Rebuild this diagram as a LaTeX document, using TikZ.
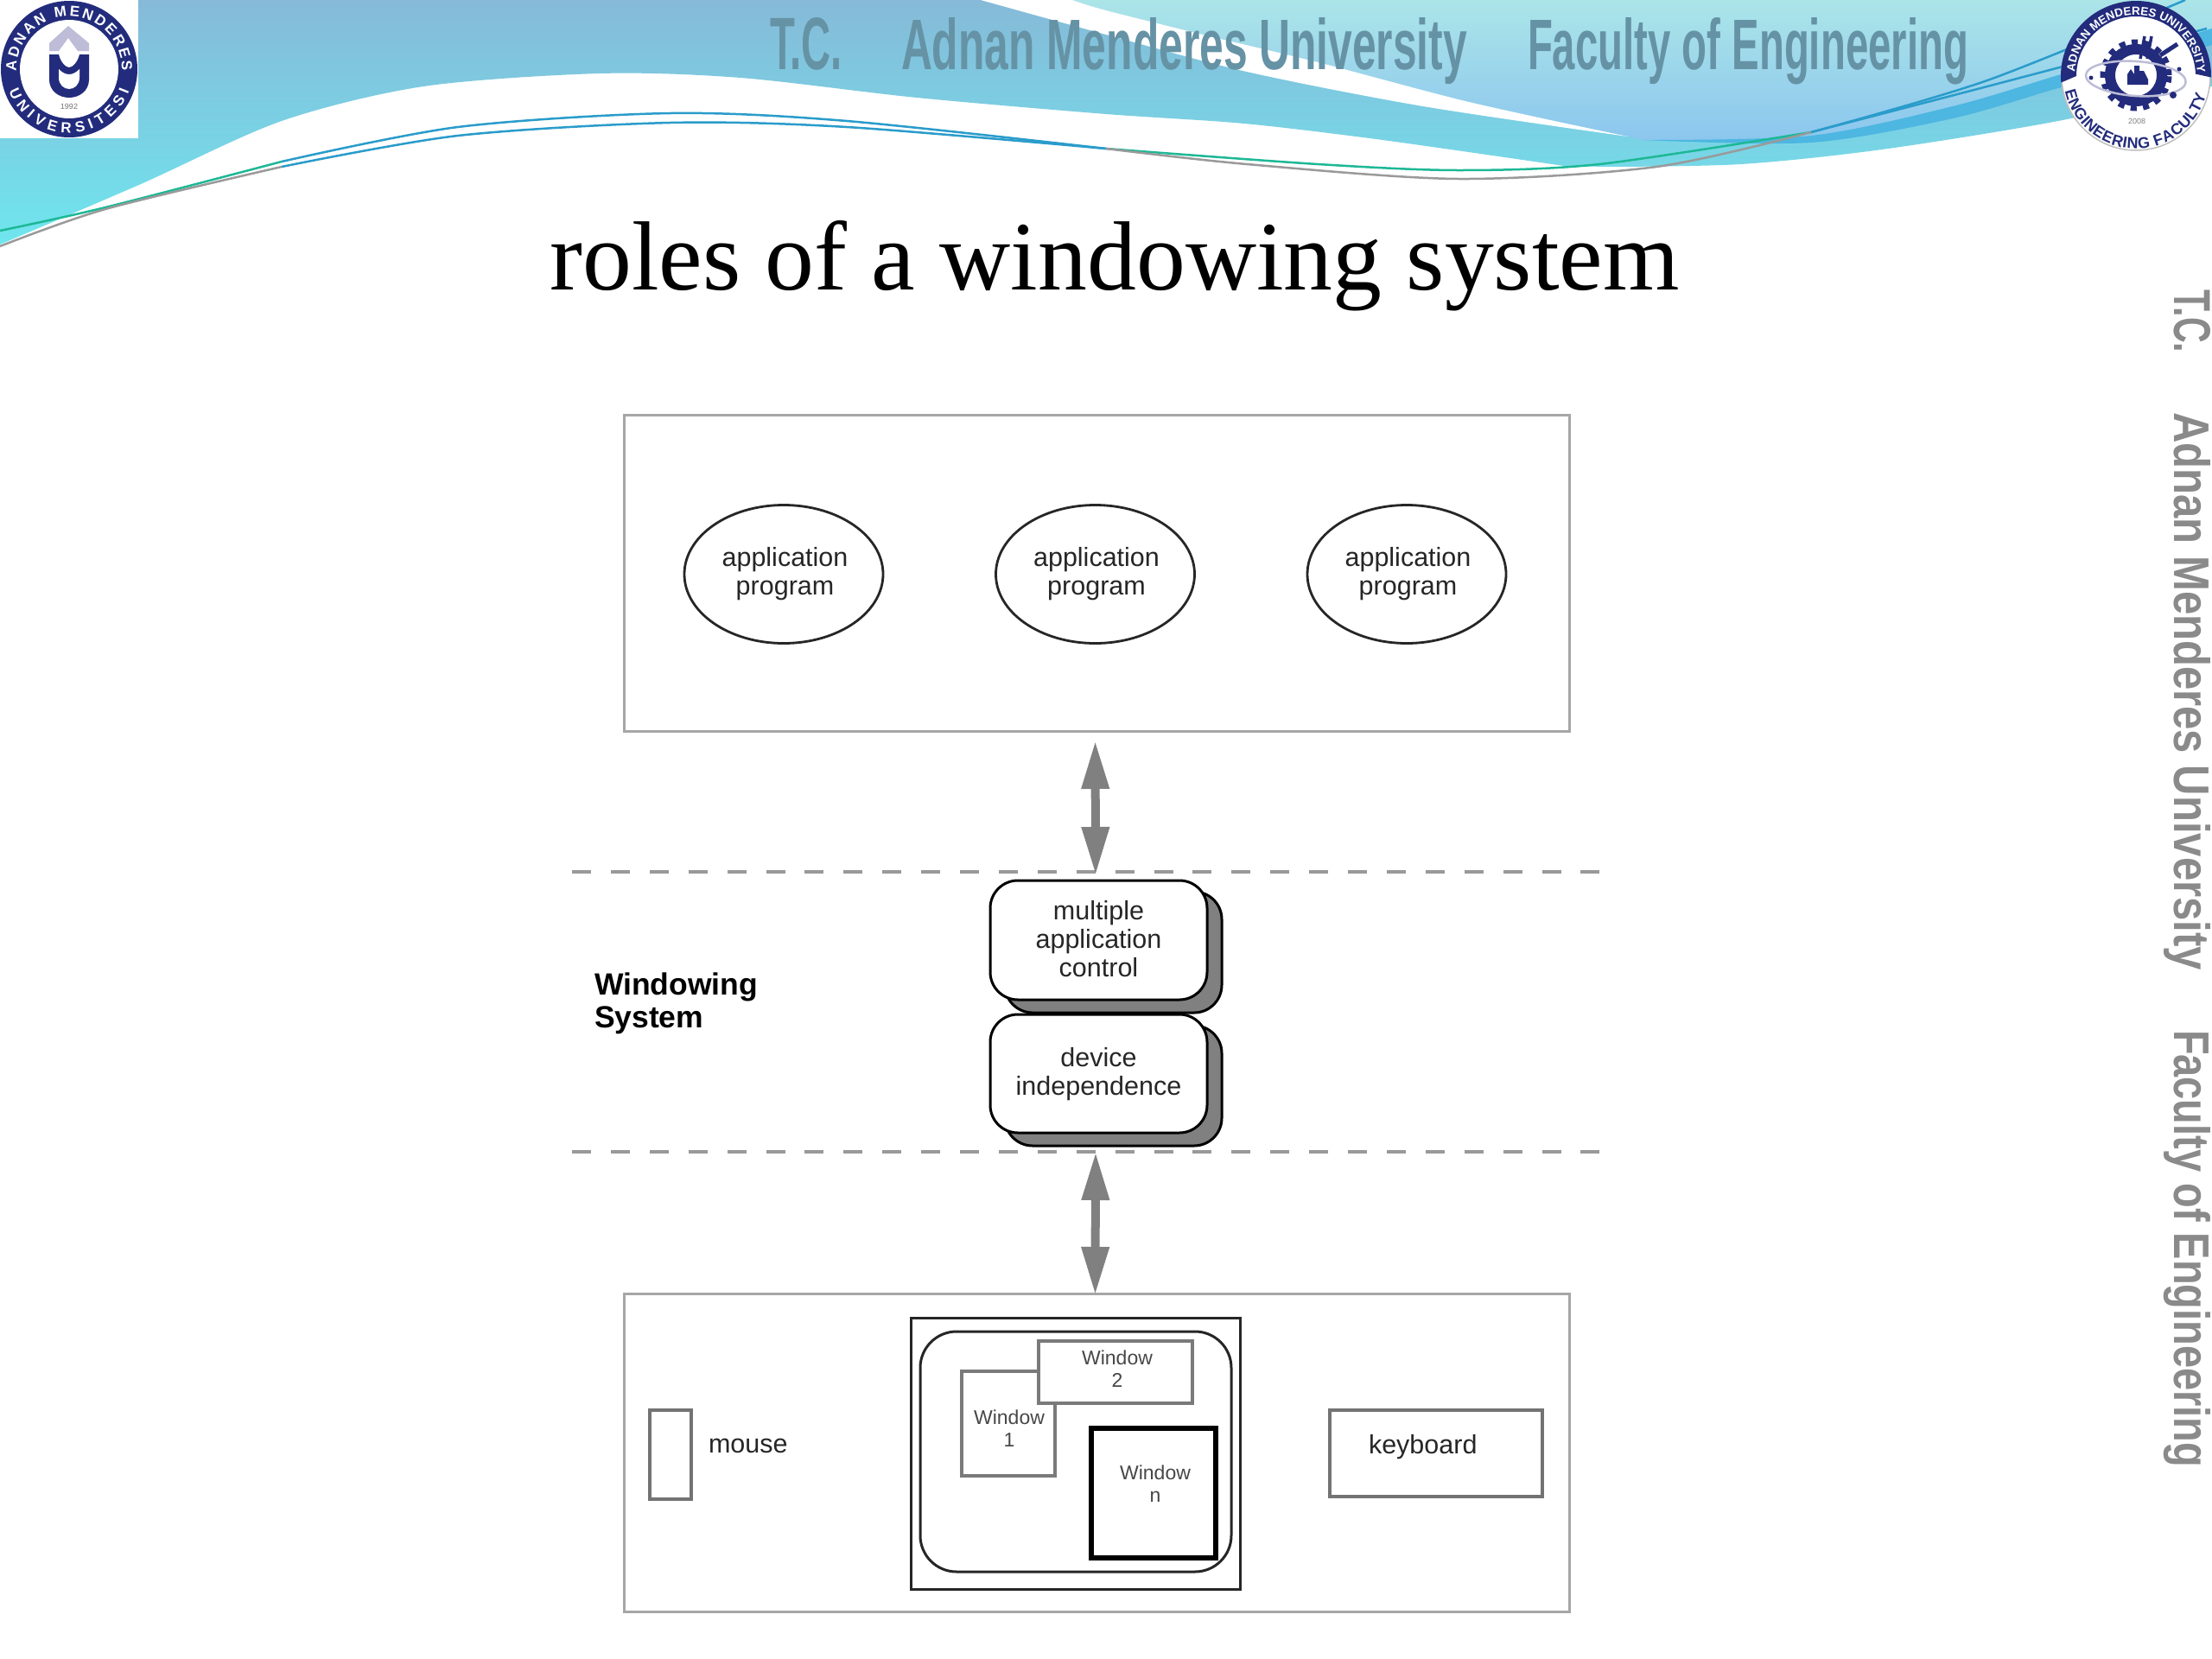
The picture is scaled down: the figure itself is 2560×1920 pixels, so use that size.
\documentclass[tikz,border=0pt]{standalone}
\usepackage{fontspec}
\usepackage{graphicx}
\usetikzlibrary{arrows.meta,shapes.geometric,decorations.text}
\setmainfont{Liberation Sans}
\newfontfamily\titlefont{Liberation Serif}
\definecolor{navyl}{HTML}{232C7C}
\definecolor{lilac}{HTML}{BDBDD8}
\definecolor{headtxt}{HTML}{6593A5}
\definecolor{sidetxt}{HTML}{8A8A8A}
\definecolor{bandblue}{HTML}{4DB6E1}
\definecolor{lineblue}{HTML}{2A9CCB}
\definecolor{linegreen}{HTML}{1DB896}
\definecolor{linegray}{HTML}{9A9A9A}
\definecolor{basetop}{HTML}{86BAD8}
\definecolor{basebot}{HTML}{6FE6EE}
\definecolor{skytop}{HTML}{ABE5E8}
\definecolor{skybot}{HTML}{8CC6EE}
\tikzset{
  every node/.style={inner sep=0pt,outer sep=0pt},
  graybox/.style={draw=black!35,line width=3pt,fill=white,rectangle,anchor=north west},
  appell/.style={ellipse,draw=black!85,line width=2.8pt,fill=white,minimum width=230pt,minimum height=160pt},
  applab/.style={align=center,font=\fontsize{30.5}{33}\selectfont,text=black!85},
  shadowbox/.style={rectangle,rounded corners=32pt,draw=black,line width=3pt,fill=black!50,anchor=north west},
  whitebox/.style={rectangle,rounded corners=32pt,draw=black,line width=3pt,fill=white,anchor=north west},
  dblarrow/.style={draw=black!50,line width=10pt,{Stealth[length=56pt,width=30pt,inset=0pt]}-{Stealth[length=56pt,width=30pt,inset=0pt]}},
  sysline/.style={draw=black!40,line width=3.5pt,dash pattern=on 22pt off 22.9pt},
  devbox/.style={rectangle,draw=black!55,line width=4.5pt,fill=white,anchor=north west},
  winbox/.style={rectangle,draw=black!52,line width=4.5pt,fill=white,anchor=north west},
  winlabel/.style={align=center,font=\fontsize{23}{26}\selectfont,text=black!72},
  devlabel/.style={anchor=west,font=\fontsize{30.5}{33}\selectfont,text=black!85},
  headtext/.style={anchor=base west,text=headtxt,font=\bfseries},
  sidetext/.style={anchor=base west,rotate=-90,text=sidetxt,font=\bfseries},
  thinline/.style={line width=2.5pt},
}
\begin{document}
\begin{tikzpicture}[x=1pt,y=-1pt]
\useasboundingbox (0,0) rectangle (2560,1920);
\fill[white] (0,0) rectangle (2560,1920);
% header base
\path[top color=basetop,bottom color=basebot]
  (0,0) -- (2560,0) -- plot[smooth] coordinates {(2560,100) (2382,140) (2178,173) (2015,190) (1860,193)}
  -- plot[smooth] coordinates {(1810,192) (1600,162) (1440,143) (1280,132) (1061,113) (857,90) (694,85) (490,100) (326,140) (163,213) (0,283)} -- cycle;
% right sky
\path[top color=skytop,bottom color=skybot]
  plot[smooth] coordinates {(1241,0) (1280,12) (1400,42) (1525,72) (1700,118) (1884,158)}
  -- plot[smooth] coordinates {(1900,162) (2096,157) (2260,123) (2382,87) (2560,33)} -- (2560,0) -- cycle;
% dark band
\fill[bandblue] plot[smooth] coordinates {(1900,162) (2096,157) (2260,123) (2382,87) (2560,33)}
  -- plot[smooth] coordinates {(2560,52) (2382,102) (2260,137) (2096,165) (1900,162)} -- cycle;
% white swoosh
\fill[white] plot[smooth] coordinates {(1135,0) (1280,40) (1443,83) (1647,123) (1884,158)}
  -- plot[smooth] coordinates {(1884,158) (1700,118) (1525,72) (1400,42) (1280,12) (1241,0)} -- cycle;
% thin curves
\draw[thinline,linegreen] plot[smooth] coordinates {(0,267) (122,240) (326,187)};
\draw[thinline,lineblue] plot[smooth] coordinates {(326,187) (530,147) (776,131) (980,140) (1280,172)};
\draw[thinline,linegreen] plot[smooth] coordinates {(1280,172) (1525,190) (1688,197) (1851,190) (2096,153)};
\draw[thinline,lineblue] plot[smooth] coordinates {(2096,153) (2300,93) (2529,0)};
\draw[thinline,linegray] plot[smooth] coordinates {(0,285) (122,242) (326,193)};
\draw[thinline,lineblue] plot[smooth] coordinates {(326,193) (530,157) (776,142) (980,147) (1280,172)};
\draw[thinline,linegray] plot[smooth] coordinates {(1280,172) (1443,190) (1688,207) (1917,193) (2096,153)};
\draw[thinline,lineblue] plot[smooth] coordinates {(2096,153) (2300,100) (2554,33)};
% header text
\node[headtext] (hTC) at (891,80) {\resizebox{84pt}{60pt}{T.C.}};
\node[headtext] (hAMU) at (1043,80) {\resizebox{655pt}{60pt}{Adnan Menderes University}};
\node[headtext] (hFE) at (1768,80) {\resizebox{510pt}{60pt}{Faculty of Engineering}};
% left logo
\fill[white] (0,0) rectangle (160,160);
\fill[navyl] (80,80) circle[radius=79pt];
\fill[white] (80,80) circle[radius=57pt];
\fill[lilac] (79,30) -- (103,50) -- (103,59) -- (90,59) -- (79,44) -- (68,59) -- (57,59) -- (57,50) -- cycle;
\fill[navyl] (57,63) -- (68,63) .. controls (70,72) and (76,78) .. (80,78) .. controls (84,78) and (90,72) .. (92,63) -- (103,63) -- (103,92) .. controls (103,105) and (92,113) .. (80,113) .. controls (68,113) and (57,105) .. (57,92) -- cycle;
\fill[white] (68,80) .. controls (72,84) and (76,86) .. (80,86) .. controls (84,86) and (88,84) .. (92,80) -- (92,90) .. controls (92,98) and (86,103) .. (80,103) .. controls (74,103) and (68,98) .. (68,90) -- cycle;
\node[text=black!55,font=\fontsize{9}{9}\selectfont] (lyear) at (80,123) {1992};
\begin{scope}[shift={(80,80)},y=1pt]
\path[decorate,decoration={text along path,text align={fit to path},text={|\bfseries\fontsize{17}{17}\selectfont\color{white}|ADNAN MENDERES}}]
  (182:61) arc[start angle=182,end angle=-2,radius=61];
\path[decorate,decoration={text along path,text align={fit to path},text={|\bfseries\fontsize{17}{17}\selectfont\color{white}|UNIVERSITESI}}]
  (200:74) arc[start angle=200,end angle=340,radius=74];
\end{scope}
% right logo
\fill[white] (2472,88) circle[radius=86pt];
\draw[black!25,line width=1.5pt] (2472,88) circle[radius=86pt];
\begin{scope}[shift={(2472,88)},y=1pt]
\fill[navyl] (-1:87) arc[start angle=-1,end angle=185,radius=87] -- (180:69) arc[start angle=180,end angle=2,radius=69] -- cycle;
\path[decorate,decoration={text along path,text align={fit to path},text={|\bfseries\fontsize{13.5}{13.5}\selectfont\color{white}|ADNAN MENDERES UNIVERSITY}}]
  (176:71) arc[start angle=176,end angle=3,radius=71];
\path[decorate,decoration={text along path,text align={fit to path},text={|\bfseries\fontsize{18}{18}\selectfont\color{navyl}|ENGINEERING FACULTY}}]
  (192:84) arc[start angle=192,end angle=345,radius=84];
% gear
\draw[navyl,line width=12pt] (0,1) circle[radius=30pt];
\draw[navyl,line width=7pt,dash pattern=on 7pt off 7.4pt] (0,1) circle[radius=38pt];
\draw[navyl,line width=3.5pt] (5,20) -- (10,46);
\draw[navyl,line width=3.5pt] (13,20) -- (18,46);
\draw[navyl,line width=5pt] (28,24) -- (48,37);
\fill[navyl] (-10,-10) -- (-10,2) -- (-6,8) -- (-2,2) -- (-2,12) -- (4,12) -- (4,6) -- (9,6) -- (14,-4) -- (14,-10) -- cycle;
\draw[lilac,line width=2.5pt,rotate=-4] (0,-3) ellipse[x radius=58,y radius=20];
\fill[navyl] (-52,-2) circle[radius=2.5pt];
\fill[navyl] (43,-22) circle[radius=4pt];
\fill[navyl] (50,8) circle[radius=2.5pt];
\end{scope}
\node[text=black!50,font=\fontsize{9}{9}\selectfont] (ryear) at (2473,140) {2008};
% title
\node[anchor=base,font=\titlefont\fontsize{113.7}{114}\selectfont,text=black] (title) at (1290,335) {roles of a windowing system};
% side text
\node[sidetext] (sTC) at (2516,335) {\resizebox{73pt}{42pt}{T.C.}};
\node[sidetext] (sAMU) at (2516,477) {\resizebox{646pt}{42pt}{Adnan Menderes University}};
\node[sidetext] (sFE) at (2516,1192) {\resizebox{506pt}{42pt}{Faculty of Engineering}};
% top box
\node[graybox,minimum width=1094pt,minimum height=366pt] (topbox) at (722,480) {};
\node[appell] (app1) at (907,664.5) {};
\node[applab] (app1lab) at (908.5,664.5) {application\\program};
\node[appell] (app2) at (1267.5,664.5) {};
\node[applab] (app2lab) at (1269,664.5) {application\\program};
\node[appell] (app3) at (1628,664.5) {};
\node[applab] (app3lab) at (1629.5,664.5) {application\\program};
% dashed lines
\coordinate (dlAl) at (662,1009);
\coordinate (dlAr) at (1852,1009);
\coordinate (dlBl) at (662,1333);
\coordinate (dlBr) at (1852,1333);
\draw[sysline] (dlAl) -- (dlAr);
\draw[sysline] (dlBl) -- (dlBr);
% windowing system
\node[anchor=west,align=left,font=\bfseries\fontsize{35.5}{38}\selectfont,text=black] (wsys) at (688,1161) {Windowing\\System};
\node[shadowbox,minimum width=251pt,minimum height=140pt] (shadowA) at (1163,1032) {};
\node[whitebox,minimum width=251pt,minimum height=138pt] (mac) at (1146,1019) {};
\node[applab] (maclab) at (1271.5,1086.5) {multiple\\application\\control};
\node[shadowbox,minimum width=251pt,minimum height=139pt] (shadowB) at (1163,1187) {};
\node[whitebox,minimum width=251pt,minimum height=137pt] (dev) at (1146,1174) {};
\node[applab] (devlab) at (1271.5,1243.5) {device\\independence};
% bottom box
\node[graybox,minimum width=1094pt,minimum height=368pt] (botbox) at (722,1497) {};
% arrows
\coordinate (tipA) at (1268,1013);
\coordinate (tipB) at (1268,1333);
\draw[dblarrow,shorten <=11pt] ([xshift=-1.5pt]topbox.south) -- (tipA);
\draw[dblarrow] (tipB) -- ([xshift=-1.5pt,yshift=-2pt]botbox.north);
% devices
\node[devbox,minimum width=48pt,minimum height=103pt] (mousebox) at (752,1632) {};
\node[devlabel] (mouselab) at (820,1673.5) {mouse};
\node[rectangle,draw=black!85,line width=3pt,fill=white,anchor=north west,minimum width=381pt,minimum height=314pt] (screen) at (1054,1525) {};
\node[rectangle,rounded corners=42pt,draw=black!85,line width=3pt,fill=white,anchor=north west,minimum width=360pt,minimum height=278pt] (desk) at (1065,1541) {};
\node[winbox,minimum width=108pt,minimum height=121pt] (win1) at (1113,1587) {};
\node[winlabel] (win1lab) at (1168,1653) {Window\\1};
\node[winbox,minimum width=178pt,minimum height=72pt] (win2) at (1202,1552) {};
\node[winlabel] (win2lab) at (1293,1584) {Window\\2};
\node[rectangle,draw=black,line width=5.5pt,fill=white,anchor=north west,minimum width=144pt,minimum height=150pt] (winn) at (1263,1653) {};
\node[winlabel] (winnlab) at (1337,1717) {Window\\n};
\node[devbox,minimum width=246pt,minimum height=100pt] (kbbox) at (1539,1632) {};
\node[devlabel] (kblab) at (1584,1675) {keyboard};
\end{tikzpicture}
\end{document}
